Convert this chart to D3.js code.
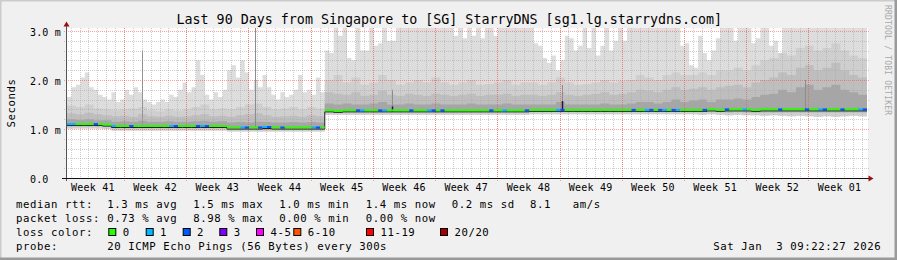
<!DOCTYPE html>
<html lang="en">
<head>
<meta charset="UTF-8" />
<script src="https://d3js.org/d3.v7.min.js"></script>
<title>SmokePing - Singapore to StarryDNS</title>
<style>
  body { margin: 0; overflow: hidden; background: #f0f0f0; }
  text { font-family: "DejaVu Sans Mono", monospace; fill: #000; }
</style>
</head>
<body>
<script>
// 90 days, one value per day unless noted (ms)
const startTime = Date.UTC(2025, 9, 6, 14, 10);
const DAY = 86400000;

const medianRtt = [
  1.09,1.09,1.09,1.09,1.08,1.05,1.05,1.05,1.05,1.05,
  1.05,1.05,1.05,1.05,1.05,1.05,1.05,1.05,1.02,1.02,
  1.02,1.02,1.03,1.02,1.02,1.02,1.02,1.02,1.02,1.37,
  1.36,1.37,1.37,1.37,1.37,1.37,1.37,1.37,1.37,1.37,
  1.37,1.37,1.37,1.37,1.37,1.37,1.37,1.37,1.37,1.37,
  1.37,1.37,1.38,1.38,1.38,1.38,1.38,1.38,1.38,1.38,
  1.38,1.38,1.38,1.38,1.38,1.38,1.38,1.38,1.38,1.38,
  1.38,1.38,1.39,1.38,1.39,1.39,1.39,1.38,1.39,1.39,
  1.39,1.39,1.39,1.39,1.39,1.39,1.39,1.39,1.39,1.39
];
const minRtt = [
  1.01,1.01,1.01,1.01,1.0,0.97,0.97,0.97,0.97,0.97,
  0.97,0.97,0.97,0.97,0.97,0.97,0.97,0.97,0.95,0.95,
  0.95,0.95,0.95,0.95,0.95,0.95,0.95,0.95,0.95,1.29,
  1.29,1.29,1.29,1.29,1.29,1.29,1.29,1.29,1.29,1.29,
  1.29,1.29,1.29,1.29,1.29,1.29,1.29,1.29,1.29,1.29,
  1.29,1.29,1.3,1.3,1.3,1.3,1.3,1.3,1.3,1.3,
  1.3,1.3,1.3,1.3,1.3,1.3,1.3,1.3,1.3,1.3,
  1.3,1.29,1.3,1.29,1.28,1.29,1.28,1.28,1.27,1.28,
  1.27,1.26,1.27,1.26,1.25,1.26,1.25,1.26,1.27,1.26
];
const lowRtt = [
  1.06,1.06,1.06,1.06,1.05,1.02,1.02,1.02,1.02,1.02,
  1.02,1.02,1.02,1.02,1.02,1.02,1.02,1.02,0.99,0.99,
  0.99,0.99,0.99,0.99,0.99,0.99,0.99,0.99,0.99,1.34,
  1.33,1.34,1.34,1.34,1.34,1.34,1.34,1.34,1.34,1.34,
  1.34,1.34,1.34,1.34,1.34,1.34,1.34,1.34,1.34,1.34,
  1.34,1.34,1.35,1.35,1.35,1.35,1.35,1.35,1.35,1.35,
  1.35,1.35,1.35,1.35,1.35,1.35,1.35,1.35,1.35,1.35,
  1.35,1.35,1.35,1.35,1.34,1.35,1.34,1.34,1.34,1.34,
  1.34,1.34,1.34,1.34,1.34,1.34,1.34,1.34,1.34,1.34
];
const p16 = [
  1.2,1.19,1.2,1.18,1.18,1.15,1.16,1.15,1.17,1.15,
  1.15,1.16,1.15,1.15,1.16,1.17,1.15,1.16,1.13,1.14,
  1.13,1.15,1.14,1.13,1.13,1.14,1.13,1.14,1.13,1.52,
  1.5,1.52,1.5,1.5,1.52,1.55,1.5,1.5,1.52,1.5,
  1.5,1.52,1.5,1.5,1.5,1.52,1.5,1.5,1.5,1.52,
  1.5,1.5,1.5,1.5,1.5,1.55,1.5,1.5,1.5,1.5,
  1.52,1.5,1.5,1.52,1.55,1.55,1.52,1.55,1.6,1.55,
  1.58,1.6,1.55,1.6,1.6,1.62,1.6,1.65,1.7,1.72,
  1.8,1.75,1.85,1.9,1.8,1.85,1.9,1.8,1.75,1.7
];
const p18 = [
  1.32,1.3,1.33,1.3,1.28,1.26,1.27,1.25,1.3,1.26,
  1.25,1.27,1.25,1.26,1.28,1.3,1.26,1.27,1.25,1.28,
  1.3,1.32,1.28,1.25,1.26,1.27,1.25,1.28,1.26,1.75,
  1.72,1.7,1.75,1.68,1.7,1.78,1.7,1.68,1.72,1.7,
  1.68,1.72,1.7,1.68,1.7,1.72,1.68,1.7,1.7,1.72,
  1.68,1.7,1.7,1.68,1.7,1.75,1.7,1.68,1.7,1.72,
  1.75,1.7,1.72,1.75,1.8,1.78,1.75,1.8,1.85,1.8,
  1.82,1.85,1.8,1.85,1.88,1.9,1.85,1.95,2.0,2.05,
  2.15,2.1,2.25,2.3,2.2,2.25,2.35,2.2,2.1,2.05
];
const p19 = [
  1.48,1.45,1.5,1.42,1.4,1.38,1.4,1.42,1.45,1.38,
  1.36,1.4,1.37,1.4,1.45,1.5,1.4,1.42,1.4,1.45,
  1.5,1.52,1.45,1.4,1.42,1.45,1.4,1.45,1.42,2.0,
  2.1,1.95,2.05,1.9,1.95,2.1,2.0,1.9,1.95,2.0,
  1.95,2.05,1.95,1.9,1.95,2.0,1.9,1.92,1.95,2.0,
  1.9,1.95,1.95,1.9,1.95,2.05,1.95,1.9,1.92,1.95,
  2.0,1.95,1.98,2.0,2.1,2.05,2.0,2.1,2.15,2.1,
  2.1,2.15,2.1,2.2,2.2,2.25,2.2,2.3,2.4,2.45,
  2.55,2.5,2.65,2.7,2.6,2.65,2.75,2.6,2.5,2.45
];
// half-day resolution (180 values)
const maxRtt = [
  1.65,1.85,1.9,2.05,2.15,1.85,1.8,1.7,1.65,1.6,
  1.75,1.55,1.6,1.8,1.7,1.85,1.75,1.6,1.55,1.5,
  1.55,1.6,1.55,1.7,1.65,1.8,1.95,1.75,1.85,2.4,
  2.1,1.7,1.6,1.75,1.65,1.8,2.2,2.3,2.05,2.4,
  2.15,1.8,2.0,1.85,2.1,1.85,1.7,1.6,1.75,1.65,
  1.7,1.8,2.1,1.75,1.8,1.7,2.05,1.75,2.6,2.55,
  3.1,2.9,3.1,2.45,2.4,3.1,2.6,2.6,3.1,2.7,
  2.75,3.1,2.8,2.8,3.1,3.1,3.1,3.1,3.1,3.1,
  3.1,3.1,3.1,3.1,3.1,3.1,3.1,2.9,3.1,2.85,
  3.1,2.9,3.1,2.85,3.1,3.1,2.9,3.1,3.1,3.1,
  3.1,3.1,3.1,3.1,3.1,2.75,2.7,2.45,2.35,2.5,
  2.2,2.4,2.9,2.85,2.6,2.7,3.1,2.65,3.1,2.5,
  2.7,3.1,2.6,2.8,3.1,2.8,3.1,3.1,3.1,3.1,
  3.1,3.1,3.1,3.1,3.1,3.1,3.1,3.1,2.7,2.75,
  2.3,2.25,2.9,2.55,2.4,2.6,2.85,3.1,3.1,3.1,
  2.8,3.1,3.1,3.1,2.75,2.85,3.1,3.1,2.7,2.8,
  2.45,3.1,3.1,3.1,3.1,3.1,3.1,3.1,3.1,3.1,
  3.1,3.1,3.1,3.1,3.1,3.1,3.1,3.1,3.1,3.1
];
// lost pings per half-day (index into lossColors)
const lossCount = [
  1,1,0,0,0,0,2,0,0,0, 1,0,0,0,2,0,0,0,0,0,
  0,0,0,1,2,0,0,0,0,2, 1,2,0,0,0,0,0,0,0,1,
  2,0,0,2,1,2,0,0,2,0, 0,0,0,0,0,1,2,0,0,0,
  0,0,0,0,0,2,1,0,0,0, 2,1,0,0,0,0,0,2,0,0,
  0,1,2,0,2,0,0,0,0,0, 0,0,0,0,0,2,0,0,1,0,
  0,0,0,2,0,0,0,0,0,0, 1,2,0,0,0,0,0,0,0,0,
  0,0,0,0,0,0,0,2,0,0, 1,2,0,2,1,0,2,1,0,0,
  0,0,0,2,0,0,0,0,2,0, 0,0,1,0,0,0,0,0,0,0,
  2,0,0,0,0,0,2,0,0,1, 2,0,0,0,2,0,0,0,1,2
];
// single-sample outliers (day offset, ms)
const spikeDays = [8.44, 21.15, 36.56, 55.68, 83.0];
const spikeTops = [2.6, 3.06, 1.8, 1.9, 2.0];
const blipDays = [36.56, 55.68];
const blipTops = [1.46, 1.57];

const lossLabels = ["0", "1", "2", "3", "4-5", "6-10", "11-19", "20/20"];
const lossColors = ["#26ff00", "#00b8ff", "#0059ff", "#7e00ff", "#ff00ff", "#ff5500", "#ff0000", "#a10000"];
const yTicks = [0, 1, 2, 3];

const W = 897, H = 260;
const svg = d3.select("body").append("svg").attr("width", W).attr("height", H);

// frame
svg.append("rect").attr("width", W).attr("height", H).attr("fill", "#f0f0f0");
svg.append("path").attr("d", `M0,${H}V0H${W}`).attr("fill", "none").attr("stroke", "#cbcbcb").attr("stroke-width", 3);
svg.append("path").attr("d", `M0,${H}H${W}V0`).attr("fill", "none").attr("stroke", "#9a9a9a").attr("stroke-width", 5);

const plot = { left: 67, right: 867, top: 28, bottom: 178 };
svg.append("rect").attr("x", plot.left).attr("y", plot.top)
  .attr("width", plot.right - plot.left + 1).attr("height", plot.bottom - plot.top)
  .attr("fill", "#fff");

const x = d3.scaleUtc()
  .domain([new Date(startTime), new Date(startTime + 90 * DAY)])
  .range([plot.left, plot.right]);
const y = d3.scaleLinear().domain([0, 3.06]).range([plot.bottom, plot.top]);

const dayX = i => x(new Date(startTime + i * DAY));
const at = (arr, i) => arr[Math.min(i, arr.length - 1)];

svg.append("clipPath").attr("id", "clip").append("rect")
  .attr("x", plot.left).attr("y", plot.top)
  .attr("width", plot.right - plot.left).attr("height", plot.bottom - plot.top);
const g = svg.append("g").attr("clip-path", "url(#clip)");

// smoke: outermost band at half-day resolution
const halfIdx = d3.range(181);
g.append("path").datum(halfIdx)
  .attr("fill", "#dddddd")
  .attr("d", d3.area().curve(d3.curveStepAfter)
    .x(k => dayX(k / 2))
    .y0(k => y(at(minRtt, Math.floor(Math.min(k, 179) / 2))))
    .y1(k => y(at(maxRtt, k))));

const dayIdx = d3.range(91);
const bands = [
  { lo: minRtt, hi: p19, color: "#cfcfcf" },
  { lo: lowRtt, hi: p18, color: "#bebebe" },
  { lo: lowRtt, hi: p16, color: "#a6a6a6" }
];
bands.forEach(b => {
  g.append("path").datum(dayIdx)
    .attr("fill", b.color)
    .attr("d", d3.area().curve(d3.curveStepAfter)
      .x(i => dayX(i))
      .y0(i => y(at(b.lo, i)))
      .y1(i => y(at(b.hi, i))));
});

g.selectAll("line.spike").data(spikeDays).join("line")
  .attr("class", "spike")
  .attr("x1", d => Math.round(dayX(d)) + 0.5).attr("x2", d => Math.round(dayX(d)) + 0.5)
  .attr("y1", d => y(medianRtt[Math.floor(d)]))
  .attr("y2", (d, i) => y(spikeTops[i]))
  .attr("stroke", "#8c8c8c").attr("stroke-width", 1);

// grid (drawn over the smoke, like rrdtool)
const minorY = d3.range(1, 16).map(v => v / 5).filter(v => Math.abs(v - Math.round(v)) > 1e-6);
const days = d3.utcDay.range(x.domain()[0], x.domain()[1]);
const mondays = d3.utcMonday.range(x.domain()[0], x.domain()[1]);
const weekStarts = d3.utcMonday.range(new Date(startTime - 7 * DAY), x.domain()[1])
  .filter(d => {
    const mid = x(d3.utcHour.offset(d, 84));
    return mid > plot.left && mid < plot.right;
  });
const grid = svg.append("g").attr("fill", "none").attr("stroke-dasharray", "1,1");
grid.selectAll("line.hmin").data(minorY).join("line")
  .attr("x1", plot.left - 3).attr("x2", plot.right + 2)
  .attr("y1", d => Math.round(y(d)) + 0.5).attr("y2", d => Math.round(y(d)) + 0.5)
  .attr("stroke", "#a8a8a8").attr("stroke-opacity", 0.55);
grid.selectAll("line.vmin").data(days).join("line")
  .attr("y1", plot.top).attr("y2", plot.bottom + 2)
  .attr("x1", d => Math.round(x(d)) + 0.5).attr("x2", d => Math.round(x(d)) + 0.5)
  .attr("stroke", "#a8a8a8").attr("stroke-opacity", 0.55);
grid.selectAll("line.hmaj").data(yTicks.filter(v => v > 0)).join("line")
  .attr("x1", plot.left - 3).attr("x2", plot.right + 2)
  .attr("y1", d => Math.round(y(d)) + 0.5).attr("y2", d => Math.round(y(d)) + 0.5)
  .attr("stroke", "#ff4040").attr("stroke-opacity", 0.5);
grid.selectAll("line.vmaj").data(mondays).join("line")
  .attr("y1", plot.top).attr("y2", plot.bottom + 3)
  .attr("x1", d => Math.round(x(d)) + 0.5).attr("x2", d => Math.round(x(d)) + 0.5)
  .attr("stroke", "#ff4040").attr("stroke-opacity", 0.5);

// median line: dark base + loss-coloured segments
const med = svg.append("g").attr("clip-path", "url(#clip)");
med.append("path").datum(dayIdx)
  .attr("fill", "none").attr("stroke", "#202020").attr("stroke-width", 1)
  .attr("d", d3.line().curve(d3.curveStepAfter)
    .x(i => dayX(i)).y(i => y(at(medianRtt, i)) + 1));
med.selectAll("line.blip").data(blipDays).join("line")
  .attr("class", "blip")
  .attr("x1", d => Math.round(dayX(d)) + 0.5).attr("x2", d => Math.round(dayX(d)) + 0.5)
  .attr("y1", d => y(medianRtt[Math.floor(d)]) + 1)
  .attr("y2", (d, i) => y(blipTops[i]))
  .attr("stroke", "#1a1a40").attr("stroke-width", 1.5);
med.selectAll("line.seg").data(lossCount).join("line")
  .attr("class", "seg")
  .attr("x1", (d, k) => dayX(k / 2)).attr("x2", (d, k) => dayX((k + 1) / 2))
  .attr("y1", (d, k) => y(medianRtt[Math.floor(k / 2)]) - 0.5)
  .attr("y2", (d, k) => y(medianRtt[Math.floor(k / 2)]) - 0.5)
  .attr("stroke", d => lossColors[d]).attr("stroke-width", 2);

// axes
svg.append("line").attr("x1", 66.5).attr("x2", 66.5).attr("y1", plot.bottom + 3).attr("y2", 25)
  .attr("stroke", "#555");
svg.append("line").attr("x1", 62).attr("x2", 869).attr("y1", 178.5).attr("y2", 178.5)
  .attr("stroke", "#111");
svg.append("path").attr("d", "M63.5,26.5L66.5,21.5L69.5,26.5Z").attr("fill", "#9a1010");
svg.append("path").attr("d", "M868.5,175.5L873.5,178.5L868.5,181.5Z").attr("fill", "#9a1010");

const yAxis = svg.append("g").attr("transform", "translate(30,0)")
  .call(d3.axisLeft(y).tickValues(yTicks).tickSize(0).tickPadding(0)
    .tickFormat(d => d === 0 ? "0.0" : d.toFixed(1) + " m"));
yAxis.select(".domain").remove();
yAxis.selectAll("text")
  .attr("x", 0).attr("dy", "0.42em").attr("text-anchor", "start")
  .attr("font-family", "DejaVu Sans Mono").attr("font-size", 10)
  .attr("letter-spacing", 0.15).attr("fill", "#000");

svg.append("g").selectAll("text").data(weekStarts).join("text")
  .attr("x", d => x(d3.utcHour.offset(d, 84)))
  .attr("y", 190.5)
  .attr("text-anchor", "middle")
  .attr("font-size", 10).attr("letter-spacing", 0.2)
  .text(d => "Week " + d3.utcFormat("%V")(d));

// titles
svg.append("text").attr("x", 176.5).attr("y", 23.5)
  .attr("font-size", 13.33).text("Last 90 Days from Singapore to [SG] StarryDNS [sg1.lg.starrydns.com]");
svg.append("text").attr("transform", "translate(15,103) rotate(-90)")
  .attr("text-anchor", "middle").attr("font-size", 10.67).attr("letter-spacing", 0.58)
  .text("Seconds");
svg.append("text").attr("transform", "translate(885,5) rotate(90)")
  .attr("font-size", 8).attr("letter-spacing", 0.2).style("fill", "#a8a8a8")
  .text("RRDTOOL / TOBI OETIKER");

// legend
const legend = svg.append("g").attr("font-size", 10.67).attr("letter-spacing", 0.58);
const legendRows = [
  { y: 207.5, items: [[16, "median rtt:"], [107.3, "1.3 ms avg"], [193.3, "1.5 ms max"], [279.3, "1.0 ms min"], [365.7, "1.4 ms now"], [451.7, "0.2 ms sd"], [530, "8.1"], [572.7, "am/s"]] },
  { y: 221.5, items: [[16, "packet loss:"], [107.3, "0.73 % avg"], [193.3, "8.98 % max"], [279.3, "0.00 % min"], [365.7, "0.00 % now"]] },
  { y: 235.5, items: [[16, "loss color:"]] },
  { y: 249.5, items: [[16, "probe:"], [107.3, "20 ICMP Echo Pings (56 Bytes) every 300s"], [713.3, "Sat Jan  3 09:22:27 2026"]] }
];
legendRows.forEach(r => {
  r.items.forEach(([lx, t]) => {
    legend.append("text").attr("x", lx).attr("y", r.y).attr("xml:space", "preserve").text(t);
  });
});
const swatchX = [108.3, 145.7, 182.7, 219.3, 256, 293.3, 366, 440];
const sw = legend.selectAll("g.sw").data(lossLabels).join("g").attr("class", "sw");
sw.append("rect")
  .attr("x", (d, i) => swatchX[i] + 0.5).attr("y", 228.5)
  .attr("width", 7).attr("height", 7)
  .attr("fill", (d, i) => lossColors[i]).attr("stroke", "#000").attr("stroke-width", 1);
sw.append("text")
  .attr("x", (d, i) => swatchX[i] + 14.4).attr("y", 235.5)
  .text(d => d);
</script>
</body>
</html>
